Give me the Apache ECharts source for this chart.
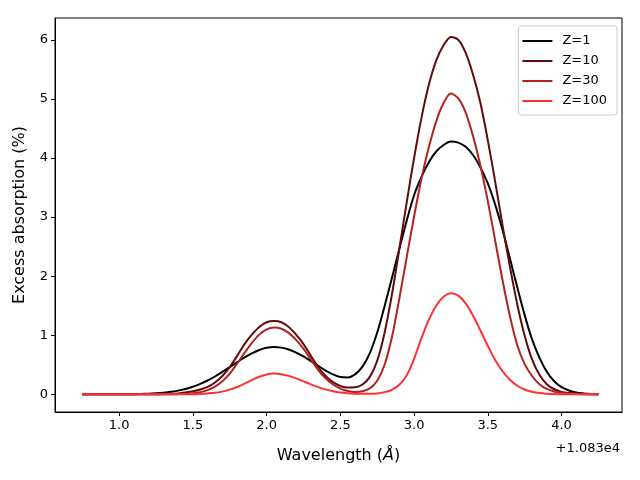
<!DOCTYPE html>
<html>
<head>
<meta charset="utf-8">
<script src="https://cdn.jsdelivr.net/npm/echarts@6/dist/echarts.min.js"></script>
<style>
  html, body { margin: 0; padding: 0; background: #fff; }
  #chart { width: 640px; height: 480px; }
</style>
</head>
<body>
<div id="chart"></div>
<script>
// wavelength offsets (x + 1.083e4, in Angstrom)
var wavelength = [
    0.75, 0.80, 0.85, 0.90, 0.95, 1.00, 1.05, 1.10, 1.15, 1.20,
    1.25, 1.30, 1.35, 1.40, 1.45, 1.50, 1.55, 1.60, 1.65, 1.70,
    1.75, 1.80, 1.85, 1.90, 1.95, 2.00, 2.05, 2.10, 2.15, 2.20,
    2.25, 2.30, 2.35, 2.40, 2.45, 2.50, 2.55, 2.60, 2.65, 2.70,
    2.75, 2.80, 2.85, 2.90, 2.95, 3.00, 3.05, 3.10, 3.15, 3.20,
    3.25, 3.30, 3.35, 3.40, 3.45, 3.50, 3.55, 3.60, 3.65, 3.70,
    3.75, 3.80, 3.85, 3.90, 3.95, 4.00, 4.05, 4.10, 4.15, 4.20,
    4.25
];

// excess absorption (%)
var z1 = [
    0, 0, 0, 0, 0, 0, 0.001, 0.002, 0.005, 0.01,
    0.017, 0.027, 0.041, 0.062, 0.09, 0.128, 0.175, 0.233, 0.301, 0.378,
    0.46, 0.543, 0.623, 0.693, 0.749, 0.786, 0.80, 0.79, 0.758, 0.706,
    0.64, 0.562, 0.481, 0.402, 0.336, 0.291, 0.286, 0.337, 0.467, 0.697,
    1.045, 1.49, 1.97, 2.46, 2.94, 3.37, 3.68, 3.93, 4.11, 4.22,
    4.28, 4.26, 4.19, 4.05, 3.84, 3.57, 3.21, 2.78, 2.30, 1.81,
    1.34, 0.93, 0.62, 0.38, 0.22, 0.12, 0.065, 0.03, 0.015, 0.006,
    0.002
];
var z10 = [
    0, 0, 0, 0, 0, 0, 0, 0, 0, 0,
    0.001, 0.003, 0.007, 0.015, 0.03, 0.05, 0.08, 0.125, 0.20, 0.31,
    0.46, 0.65, 0.85, 1.01, 1.14, 1.22, 1.24, 1.22, 1.14, 1.01,
    0.85, 0.65, 0.46, 0.31, 0.206, 0.14, 0.113, 0.118, 0.166, 0.295,
    0.567, 1.043, 1.69, 2.46, 3.25, 4.00, 4.68, 5.24, 5.65, 5.91,
    6.05, 6.00, 5.78, 5.41, 4.93, 4.30, 3.60, 2.86, 2.16, 1.52,
    0.99, 0.59, 0.33, 0.17, 0.085, 0.04, 0.02, 0.009, 0.004, 0.002,
    0.001
];
var z30 = [
    0, 0, 0, 0, 0, 0, 0, 0, 0, 0,
    0, 0, 0, 0.003, 0.008, 0.017, 0.035, 0.07, 0.13, 0.22,
    0.35, 0.52, 0.70, 0.87, 1.01, 1.10, 1.13, 1.11, 1.04, 0.92,
    0.77, 0.59, 0.41, 0.27, 0.166, 0.097, 0.056, 0.04, 0.052, 0.10,
    0.23, 0.50, 0.97, 1.62, 2.32, 3.01, 3.65, 4.18, 4.62, 4.93,
    5.09, 5.01, 4.77, 4.37, 3.87, 3.27, 2.60, 1.93, 1.32, 0.83,
    0.51, 0.31, 0.17, 0.09, 0.048, 0.024, 0.01, 0.004, 0.002, 0.001,
    0
];
var z100 = [
    0, 0, 0, 0, 0, 0, 0, 0, 0, 0,
    0, 0, 0, 0, 0, 0.002, 0.005, 0.012, 0.024, 0.045,
    0.078, 0.124, 0.18, 0.24, 0.296, 0.336, 0.35, 0.34, 0.311, 0.269,
    0.219, 0.168, 0.121, 0.083, 0.053, 0.032, 0.019, 0.01, 0.007, 0.008,
    0.015, 0.036, 0.076, 0.16, 0.32, 0.60, 0.95, 1.26, 1.50, 1.65,
    1.71, 1.67, 1.54, 1.33, 1.08, 0.82, 0.58, 0.39, 0.245, 0.145,
    0.081, 0.042, 0.02, 0.01, 0.004, 0.002, 0, 0, 0, 0,
    0
];

var seriesNames = ['Z=1', 'Z=10', 'Z=30', 'Z=100'];
var seriesColors = ['#000000', '#5e0c0c', '#b22222', '#ff3030'];
var xTicks = [1.0, 1.5, 2.0, 2.5, 3.0, 3.5, 4.0];
var yTicks = [0, 1, 2, 3, 4, 5, 6];

var chart = echarts.init(document.getElementById('chart'));

function pairs(ys) {
    return wavelength.map(function (w, i) { return [w, ys[i]]; });
}

var allValues = [z1, z10, z30, z100];
var series = seriesNames.map(function (name, i) {
    return {
        name: name,
        type: 'line',
        data: pairs(allValues[i]),
        showSymbol: false,
        symbol: 'none',
        smooth: 0.3,
        lineStyle: { color: seriesColors[i], width: 2 },
        itemStyle: { color: seriesColors[i] },
        z: 2 + i
    };
});

var font = 'DejaVu Sans';

chart.setOption({
    animation: false,
    backgroundColor: '#fff',
    textStyle: { fontFamily: font },
    grid: {
        left: 55,
        right: 18,
        top: 18,
        bottom: 68,
        show: true,
        borderColor: '#000',
        borderWidth: 1,
        backgroundColor: 'transparent'
    },
    legend: {
        data: seriesNames.map(function (n) { return { name: n, icon: 'rect' }; }),
        orient: 'vertical',
        right: 23,
        top: 26,
        itemWidth: 30,
        itemHeight: 2,
        itemGap: 6,
        padding: [8, 10, 7, 4],
        backgroundColor: 'rgba(255,255,255,0.8)',
        borderColor: '#cccccc',
        borderWidth: 1,
        borderRadius: 3,
        textStyle: { fontFamily: font, fontSize: 13, lineHeight: 14, color: '#000', padding: [0, 0, 0, 5] }
    },
    xAxis: {
        type: 'value',
        min: 0.565,
        max: 4.41,
        name: '{a|Wavelength (}{b|Å}{a|)}',
        nameLocation: 'middle',
        nameGap: 36,
        nameTextStyle: {
            rich: {
                a: { fontFamily: font, fontSize: 16, color: '#000' },
                b: { fontFamily: font, fontSize: 16, color: '#000', fontStyle: 'italic' }
            }
        },
        axisLine: { show: true, onZero: false, lineStyle: { color: '#000', width: 1 } },
        axisTick: { show: true, length: 4, lineStyle: { color: '#000', width: 1 }, customValues: xTicks },
        axisLabel: {
            color: '#000',
            fontSize: 13,
            fontFamily: font,
            margin: 7,
            customValues: xTicks,
            formatter: function (v) { return v.toFixed(1); }
        },
        splitLine: { show: false }
    },
    yAxis: {
        type: 'value',
        min: -0.3,
        max: 6.37,
        name: 'Excess absorption (%)',
        nameLocation: 'middle',
        nameGap: 27,
        nameTextStyle: { fontFamily: font, fontSize: 16, color: '#000' },
        axisLine: { show: true, onZero: false, lineStyle: { color: '#000', width: 1 } },
        axisTick: { show: true, length: 4, lineStyle: { color: '#000', width: 1 }, customValues: yTicks },
        axisLabel: {
            color: '#000',
            fontSize: 13,
            fontFamily: font,
            margin: 7,
            customValues: yTicks,
            formatter: function (v) { return String(v); }
        },
        splitLine: { show: false }
    },
    graphic: [{
        type: 'text',
        right: 20,
        top: 442,
        style: { text: '+1.083e4', font: '13px "DejaVu Sans"', fill: '#000' }
    }],
    series: series
});
</script>
</body>
</html>
